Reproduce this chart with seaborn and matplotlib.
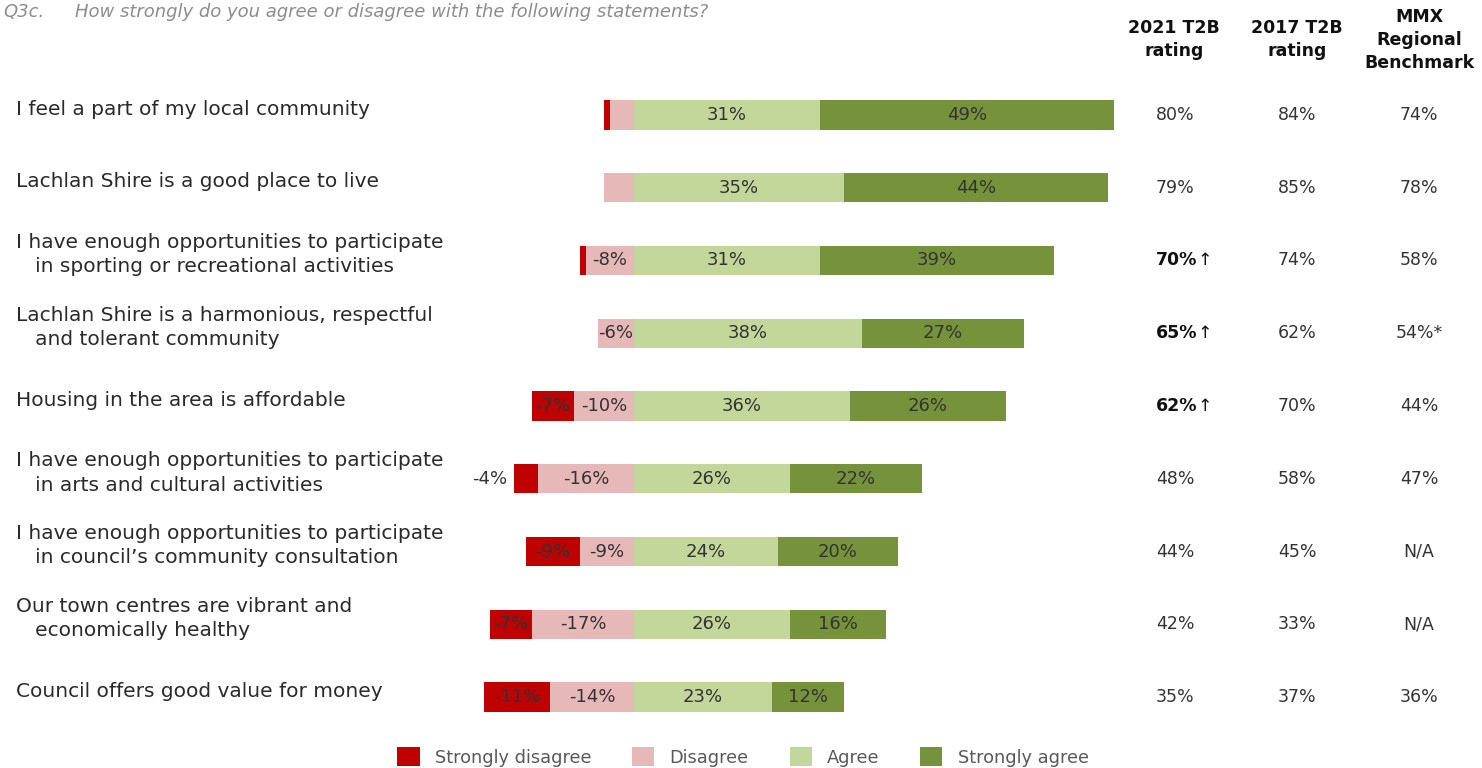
import matplotlib
matplotlib.use("Agg")
import matplotlib.pyplot as plt
from matplotlib.patches import Patch
from matplotlib.transforms import blended_transform_factory
import pandas as pd
import seaborn as sns

# ---- data -------------------------------------------------------------
statements = [
    "I feel a part of my local community",
    "Lachlan Shire is a good place to live",
    "I have enough opportunities to participate\n   in sporting or recreational activities",
    "Lachlan Shire is a harmonious, respectful\n   and tolerant community",
    "Housing in the area is affordable",
    "I have enough opportunities to participate\n   in arts and cultural activities",
    "I have enough opportunities to participate\n   in council\u2019s community consultation",
    "Our town centres are vibrant and\n   economically healthy",
    "Council offers good value for money",
]
strongly_disagree = [1, 0, 1, 0, 7, 4, 9, 7, 11]
disagree = [4, 5, 8, 6, 10, 16, 9, 17, 14]
agree = [31, 35, 31, 38, 36, 26, 24, 26, 23]
strongly_agree = [49, 44, 39, 27, 26, 22, 20, 16, 12]
t2b_2017 = ["84%", "85%", "74%", "62%", "70%", "58%", "45%", "33%", "37%"]
mmx_benchmark = ["74%", "78%", "58%", "54%*", "44%", "47%", "N/A", "N/A", "36%"]
significant_up = [False, False, True, True, True, False, False, False, False]
# where the negative segment labels go: "in", "out" or "" (not shown)
sd_label_pos = ["", "", "", "", "in", "out", "in", "in", "in"]
d_label_pos = ["", "", "in", "in", "in", "in", "in", "in", "in"]

legend_labels = ["Strongly disagree", "Disagree", "Agree", "Strongly agree"]
colors = {"sd": "#C00000", "d": "#E6B8B7", "a": "#C4D79B", "sa": "#76933C"}

df = pd.DataFrame({
    "statement": statements,
    "sd": strongly_disagree,
    "d": disagree,
    "a": agree,
    "sa": strongly_agree,
})
df["pos_total"] = df["a"] + df["sa"]
df["neg_total"] = -(df["sd"] + df["d"])
df["neg_d"] = -df["d"]

# ---- figure -----------------------------------------------------------
sns.set_theme(style="white")
plt.rcParams["font.family"] = ["DejaVu Sans"]

W, H = 1482, 768
fig = plt.figure(figsize=(W / 100, H / 100), dpi=100)
ax = fig.add_axes([466 / W, 1 - 733.4 / H, 654 / W, (733.4 - 78.6) / H])

bar_kw = dict(data=df, y="statement", orient="h", width=0.4,
              saturation=1, linewidth=0, ax=ax)
sns.barplot(x="pos_total", color=colors["sa"], **bar_kw)
sns.barplot(x="a", color=colors["a"], **bar_kw)
sns.barplot(x="neg_total", color=colors["sd"], **bar_kw)
sns.barplot(x="neg_d", color=colors["d"], **bar_kw)

ax.set_xlim(-28, 81)
ax.set_ylim(len(statements) - 0.5, -0.5)
ax.set_xlabel("")
ax.set_ylabel("")
ax.set_xticks([])
ax.set_yticks([])
for s in ax.spines.values():
    s.set_visible(False)

lab_col = "#333333"
lab_fs = 13
for i, row in df.iterrows():
    # positive segments
    ax.text(row["a"] / 2, i, f"{row['a']}%", ha="center", va="center",
            fontsize=lab_fs, color=lab_col)
    ax.text(row["a"] + row["sa"] / 2, i, f"{row['sa']}%", ha="center",
            va="center", fontsize=lab_fs, color=lab_col)
    # negative segments
    if d_label_pos[i] == "in":
        ax.text(-row["d"] / 2, i, f"-{row['d']}%", ha="center", va="center",
                fontsize=lab_fs, color=lab_col)
    if sd_label_pos[i] == "in":
        ax.text(-row["d"] - row["sd"] / 2, i, f"-{row['sd']}%", ha="center",
                va="center", fontsize=lab_fs, color=lab_col)
    elif sd_label_pos[i] == "out":
        ax.text(-row["d"] - row["sd"] - 1.2, i, f"-{row['sd']}%", ha="right",
                va="center", fontsize=lab_fs, color=lab_col)

# statement labels on the left
tr_left = blended_transform_factory(fig.transFigure, ax.transData)
for i, s in enumerate(statements):
    ax.text(16 / W, i - 0.08, s, transform=tr_left, ha="left", va="center",
            fontsize=14.5, color="#2A2A2A", linespacing=1.36)

# rating columns on the right
val_fs = 12.5
for i, row in df.iterrows():
    if significant_up[i]:
        t = ax.text(1156 / W, i, f"{row['pos_total']}%", transform=tr_left,
                    ha="left", va="center", fontsize=val_fs,
                    fontweight="bold", color="#111111")
        ax.annotate("\u2191", xycoords=t, xy=(1, 0.5), ha="left", va="center",
                    fontsize=val_fs, color="#111111")
    else:
        ax.text(1156 / W, i, f"{row['pos_total']}%", transform=tr_left,
                ha="left", va="center", fontsize=val_fs, color="#333333")
    ax.text(1297 / W, i, t2b_2017[i], transform=tr_left, ha="center",
            va="center", fontsize=val_fs, color="#333333")
    ax.text(1419 / W, i, mmx_benchmark[i], transform=tr_left, ha="center",
            va="center", fontsize=val_fs, color="#333333")

hdr_kw = dict(ha="center", va="center", fontsize=12.5, fontweight="bold",
              color="#111111", linespacing=1.35)
fig.text(1174 / W, 1 - 39.5 / H, "2021 T2B\nrating", **hdr_kw)
fig.text(1297 / W, 1 - 39.5 / H, "2017 T2B\nrating", **hdr_kw)
fig.text(1419 / W, 1 - 40 / H, "MMX\nRegional\nBenchmark", **hdr_kw)

# question heading
fig.text(3 / W, 1 - 12 / H, "Q3c.", ha="left", va="center", fontsize=13,
         style="italic", color="#8C8C8C")
fig.text(75 / W, 1 - 12 / H,
         "How strongly do you agree or disagree with the following statements?",
         ha="left", va="center", fontsize=13, style="italic",
         color="#8C8C8C")

# legend
handles = [Patch(facecolor=colors[k], edgecolor="none")
           for k in ["sd", "d", "a", "sa"]]
fig.legend(handles, legend_labels, loc="center",
           bbox_to_anchor=(743 / W, 1 - 757 / H), ncol=4, frameon=False,
           fontsize=12.8, handlelength=1.25, handleheight=1.25,
           handletextpad=0.85, columnspacing=2.3, labelcolor="#595959")

fig.savefig("out.png", dpi=100)
